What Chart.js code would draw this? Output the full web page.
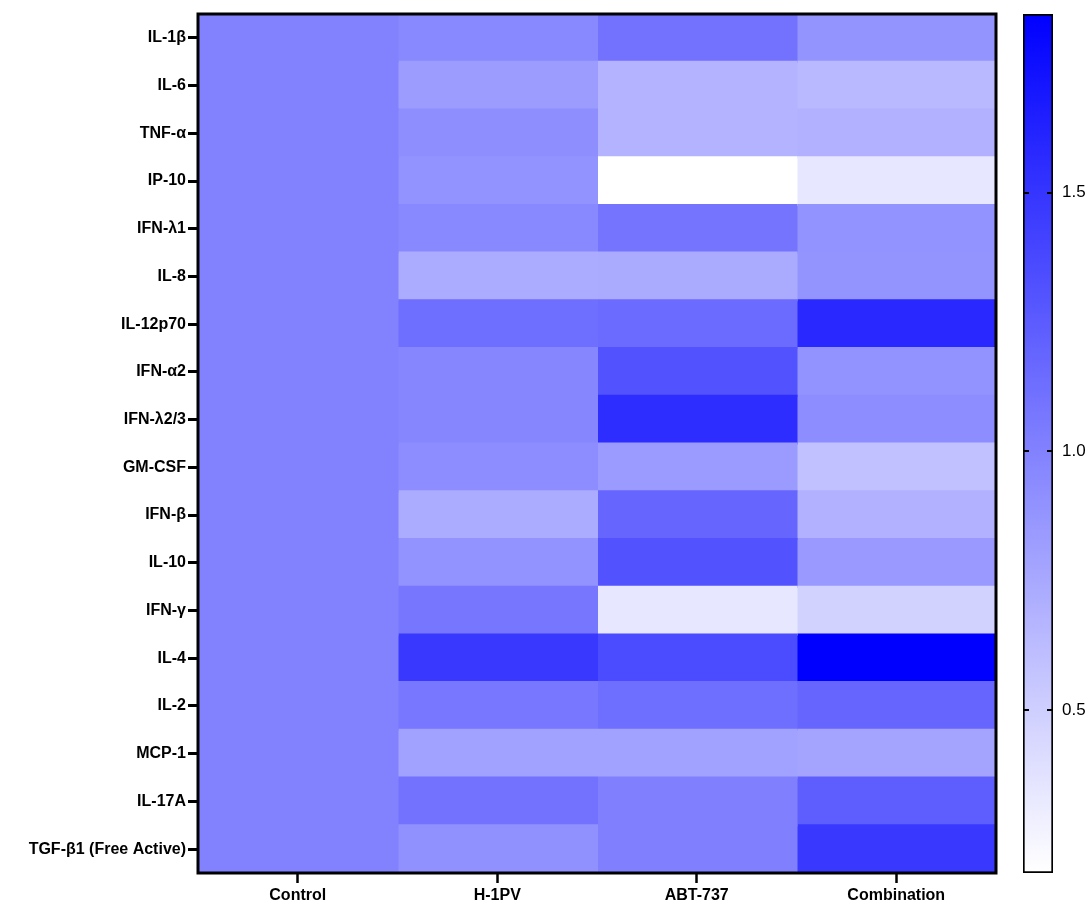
<!DOCTYPE html>
<html>
<head>
<meta charset="utf-8">
<script src="https://cdn.jsdelivr.net/npm/chart.js@4.4.1/dist/chart.umd.min.js"></script>
<style>
  body { margin: 0; background: #fff; }
  #wrap { position: relative; width: 1091px; height: 904px; }
  #heat { position: absolute; left: 0; top: 0; }
  #escala { position: absolute; left: 1000px; top: 0; }
</style>
</head>
<body>
<div id="wrap">
  <canvas id="heat" width="1010" height="904"></canvas>
  <canvas id="escala" width="91" height="904"></canvas>
</div>
<script>
// Datos del heatmap (fold change vs Control)
const cytokines = ['IL-1\u03b2', 'IL-6', 'TNF-\u03b1', 'IP-10', 'IFN-\u03bb1', 'IL-8', 'IL-12p70', 'IFN-\u03b12',
  'IFN-\u03bb2/3', 'GM-CSF', 'IFN-\u03b2', 'IL-10', 'IFN-\u03b3', 'IL-4', 'IL-2', 'MCP-1', 'IL-17A', 'TGF-\u03b21 (Free Active)'];
const groups = ['Control', 'H-1PV', 'ABT-737', 'Combination'];

const control     = [1.00, 1.00, 1.00, 1.00, 1.00, 1.00, 1.00, 1.00, 1.00, 1.00, 1.00, 1.00, 1.00, 1.00, 1.00, 1.00, 1.00, 1.00];
const h1pv        = [0.96, 0.83, 0.92, 0.89, 0.95, 0.73, 1.13, 0.97, 0.97, 0.93, 0.73, 0.89, 1.08, 1.48, 1.07, 0.80, 1.10, 0.91];
const abt737      = [1.10, 0.68, 0.68, 0.185, 1.09, 0.74, 1.15, 1.31, 1.55, 0.84, 1.18, 1.31, 0.34, 1.36, 1.12, 0.80, 1.01, 1.01];
const combination = [0.88, 0.64, 0.69, 0.34, 0.89, 0.88, 1.58, 0.89, 0.93, 0.59, 0.69, 0.85, 0.48, 1.845, 1.18, 0.78, 1.23, 1.48];

// Ticks de la barra de color
const colorbarTicks = [0.5, 1.0, 1.5];

const columns = [control, h1pv, abt737, combination];
const allValues = columns.flat();
const vmin = Math.min(...allValues);
const vmax = Math.max(...allValues);

// blanco -> azul
function heatColor(v) {
  const t = (v - vmin) / (vmax - vmin);
  const c = Math.round(255 * (1 - t));
  return 'rgb(' + c + ',' + c + ',255)';
}

const FONT = "'Liberation Sans', Arial, Helvetica, sans-serif";

// Marco negro alrededor del area del grafico
const framePlugin = {
  id: 'frame',
  afterDraw(chart) {
    const { ctx, chartArea } = chart;
    ctx.save();
    ctx.strokeStyle = '#000';
    ctx.lineWidth = 3;
    ctx.strokeRect(chartArea.left, chartArea.top, chartArea.right - chartArea.left, chartArea.bottom - chartArea.top);
    ctx.restore();
  }
};

new Chart(document.getElementById('heat'), {
  type: 'bar',
  data: {
    labels: cytokines,
    datasets: columns.map((vals, i) => ({
      label: groups[i],
      data: vals.map(() => [i, i + 1]),
      backgroundColor: vals.map(heatColor),
      borderWidth: 0,
      inflateAmount: 1,
      barPercentage: 1,
      categoryPercentage: 1,
      grouped: false
    }))
  },
  options: {
    indexAxis: 'y',
    responsive: false,
    animation: false,
    layout: { padding: { top: 14, right: 14, left: 0, bottom: 0 } },
    plugins: { legend: { display: false }, tooltip: { enabled: false } },
    scales: {
      x: {
        type: 'linear',
        min: 0,
        max: groups.length,
        afterBuildTicks: axis => { axis.ticks = groups.map((g, i) => ({ value: i + 0.5 })); },
        afterFit: scale => { scale.height = 31; },
        ticks: {
          autoSkip: false,
          maxRotation: 0,
          padding: 3,
          color: '#000',
          font: { family: FONT, size: 16, weight: 'bold' },
          callback: v => groups[Math.floor(v)]
        },
        grid: { drawOnChartArea: false, drawTicks: true, tickLength: 10, tickWidth: 2.5, tickColor: '#000' },
        border: { display: false }
      },
      y: {
        type: 'category',
        offset: true,
        afterFit: scale => { scale.width = 198; },
        ticks: {
          autoSkip: false,
          padding: 2,
          color: '#000',
          font: { family: FONT, size: 16, weight: 'bold' }
        },
        grid: { offset: false, drawOnChartArea: false, drawTicks: true, tickLength: 10, tickWidth: 3, tickColor: '#000' },
        border: { display: false }
      }
    }
  },
  plugins: [framePlugin]
});

// Marcas internas de la barra de color
const innerTicks = {
  id: 'innerTicks',
  afterDraw(chart) {
    const { ctx, chartArea } = chart;
    const y = chart.scales.y;
    ctx.save();
    ctx.strokeStyle = '#000';
    ctx.lineWidth = 2;
    colorbarTicks.forEach(v => {
      const py = Math.round(y.getPixelForValue(v));
      ctx.beginPath();
      ctx.moveTo(chartArea.left, py); ctx.lineTo(chartArea.left + 6, py);
      ctx.moveTo(chartArea.right - 6, py); ctx.lineTo(chartArea.right, py);
      ctx.stroke();
    });
    ctx.restore();
  }
};

new Chart(document.getElementById('escala'), {
  type: 'bar',
  data: {
    labels: ['escala'],
    datasets: [{
      data: [[vmin, vmax]],
      backgroundColor: context => {
        const { ctx, chartArea } = context.chart;
        if (!chartArea) return heatColor(vmax);
        const g = ctx.createLinearGradient(0, chartArea.bottom, 0, chartArea.top);
        g.addColorStop(0, heatColor(vmin));
        g.addColorStop(1, heatColor(vmax));
        return g;
      },
      borderColor: '#000',
      borderWidth: 2,
      borderSkipped: false,
      barPercentage: 1,
      categoryPercentage: 1
    }]
  },
  options: {
    responsive: false,
    animation: false,
    layout: { padding: { top: 14, bottom: 31, left: 23, right: 0 } },
    plugins: { legend: { display: false }, tooltip: { enabled: false } },
    scales: {
      x: { display: false },
      y: {
        position: 'right',
        min: vmin,
        max: vmax,
        afterBuildTicks: axis => { axis.ticks = colorbarTicks.map(v => ({ value: v })); },
        afterFit: scale => {
          scale.width = 38;
          scale.paddingTop = 0;
          scale.paddingBottom = 0;
        },
        ticks: {
          padding: 9,
          color: '#000',
          font: { family: FONT, size: 17 },
          callback: v => v.toFixed(1)
        },
        grid: { display: false, drawTicks: false },
        border: { display: false }
      }
    }
  },
  plugins: [innerTicks]
});
</script>
</body>
</html>
